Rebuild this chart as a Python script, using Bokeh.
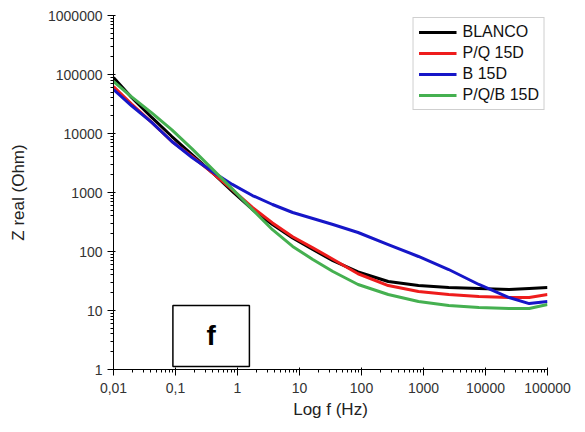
from bokeh.plotting import figure
from bokeh.models import Range1d, FixedTicker, BoxAnnotation, Label, Legend, LegendItem
from bokeh.embed import file_html
from bokeh.resources import INLINE

# Frequencies (Hz) at which the curves were read
freq = [0.01, 0.0196, 0.0414, 0.0875, 0.185, 0.39, 0.824, 1.74, 3.67, 7.76,
        16.4, 34.6, 88, 270, 830, 2550, 7820, 24000, 50700, 100000]

# Z real (Ohm)
blanco = [88900, 40700, 18700, 8890, 4400, 2180, 1040, 515, 287, 170,
          108, 70, 45, 31.0, 26.5, 24.5, 23.6, 22.7, 23.6, 24.5]
pq15 = [62600, 31600, 15400, 7320, 4080, 2180, 1120, 557, 305, 178,
        115, 74, 42, 26.5, 21.0, 18.7, 17.3, 16.6, 16.6, 18.7]
b15 = [55700, 29500, 15400, 7320, 3920, 2270, 1370, 889, 626, 458,
       363, 287, 210, 131, 82.3, 49.5, 27.6, 16.6, 13.1, 14.2]
pqb15 = [76100, 41700, 22400, 11500, 5500, 2510, 1150, 513, 234, 122,
         73.2, 45.8, 27.6, 18.7, 14.2, 12.2, 11.2, 10.8, 10.8, 12.6]

series_names = ["BLANCO", "P/Q 15D", "B 15D", "P/Q/B 15D"]
series_values = [blanco, pq15, b15, pqb15]
series_colors = ["#000000", "#ee1c1c", "#1616c8", "#45b050"]

x_ticks = [0.01, 0.1, 1, 10, 100, 1000, 10000, 100000]
x_tick_labels = ["0,01", "0,1", "1", "10", "100", "1000", "10000", "100000"]
y_ticks = [1, 10, 100, 1000, 10000, 100000, 1000000]
y_tick_labels = ["1", "10", "100", "1000", "10000", "100000", "1000000"]

FONT = "Liberation Sans"

p = figure(width=575, height=424, x_axis_type="log", y_axis_type="log",
           x_range=Range1d(0.01, 100000), y_range=Range1d(1, 1000000),
           output_backend="svg", toolbar_location=None,
           min_border_left=113, min_border_right=28, min_border_top=15, min_border_bottom=55)
p.outline_line_color = None
p.xgrid.visible = False
p.ygrid.visible = False
p.background_fill_color = "white"
p.border_fill_color = "white"

def minors(ticks):
    out = []
    for t in ticks[:-1]:
        for k in range(2, 10):
            out.append(t * k)
    return out

p.xaxis.ticker = FixedTicker(ticks=x_ticks, minor_ticks=minors(x_ticks))
p.yaxis.ticker = FixedTicker(ticks=y_ticks, minor_ticks=minors(y_ticks))
p.xaxis.major_label_overrides = {t: l for t, l in zip(x_ticks, x_tick_labels)}
p.yaxis.major_label_overrides = {t: l for t, l in zip(y_ticks, y_tick_labels)}

for ax in (p.xaxis, p.yaxis):
    ax.axis_line_color = "black"
    ax.axis_line_width = 1
    ax.major_tick_line_color = "black"
    ax.minor_tick_line_color = "black"
    ax.major_tick_in = 2
    ax.major_tick_out = 6
    ax.minor_tick_in = 0
    ax.minor_tick_out = 3
    ax.major_label_text_font = FONT
    ax.major_label_text_font_size = "14px"
    ax.major_label_text_color = "#333333"
    ax.axis_label_text_font = FONT
    ax.axis_label_text_font_size = "17px"
    ax.axis_label_text_font_style = "normal"
    ax.axis_label_text_color = "#222222"

p.xaxis.axis_label = "Log f (Hz)"
p.yaxis.axis_label = "Z real (Ohm)"
p.xaxis.major_label_standoff = 7
p.yaxis.major_label_standoff = 5
p.xaxis.axis_label_standoff = 4
p.yaxis.axis_label_standoff = 17

items = []
for name, vals, col in zip(series_names, series_values, series_colors):
    r = p.line(freq, vals, line_color=col, line_width=3, line_join="round")
    items.append(LegendItem(label=name, renderers=[r]))

legend = Legend(items=items, location="top_right", margin=2)
legend.padding = 5
legend.spacing = 3
legend.glyph_width = 38
legend.glyph_height = 18
legend.label_height = 18
legend.label_standoff = 6
legend.label_text_font = FONT
legend.label_text_font_size = "16px"
legend.label_text_color = "#111111"
legend.border_line_color = "#a0a0a0"
legend.border_line_width = 1
legend.background_fill_alpha = 1
p.add_layout(legend)

# Panel tag box "f"
box = BoxAnnotation(left=0.0908, right=1.556, bottom=1.12, top=12.2,
                    fill_color="white", fill_alpha=1, line_color="black",
                    line_alpha=1, line_width=1.5)
p.add_layout(box)
p.add_layout(Label(x=0.376, y=3.7, text="f", text_font=FONT, text_font_size="28px",
                   text_font_style="bold", text_align="center", text_baseline="middle",
                   text_color="black"))

open("out.html", "w").write(file_html(p, INLINE))
